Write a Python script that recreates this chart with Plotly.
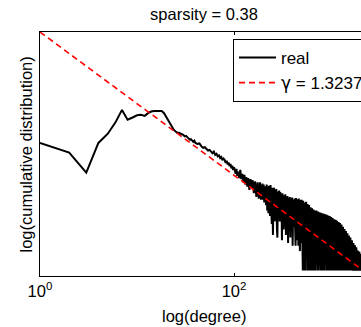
import plotly.graph_objects as go

# ---------------- data ----------------
title_text = "sparsity = 0.38"
x_label = "log(degree)"
y_label = "log(cumulative distribution)"
series_names = ["real", "<span style='font-family:DejaVu Sans'>γ</span> = 1.3237"]
gamma = 1.3237

x_tick_vals = [1, 100]
x_tick_text = ["10<sup>0</sup>", "10<sup>2</sup>"]

# head of the curve (one point per degree)
degree_head = [1, 2, 3, 4, 5, 6, 7, 8, 9, 10, 11, 12, 13, 14, 15, 16, 17, 18,
               19, 20, 21, 22, 23, 24, 25, 26, 27, 28, 29, 30, 31, 32, 33, 34,
               35, 36, 37, 38, 39, 40]
log_cdf_head = [-2.05, -2.23, -2.60, -2.05, -1.88, -1.67, -1.44, -1.62, -1.58,
                -1.54, -1.53, -1.55, -1.50, -1.47, -1.46, -1.46, -1.46, -1.46,
                -1.50, -1.57, -1.64, -1.69, -1.75, -1.81, -1.84, -1.86, -1.86,
                -1.88, -1.89, -1.90, -1.93, -1.92, -1.95, -1.97, -1.99, -1.98,
                -2.02, -2.03, -2.01, -2.05]

# middle part
degree_mid = [42, 44, 46, 48, 50, 52, 54, 56, 58, 60,
              62, 64, 66, 68, 70, 72, 74, 76, 78, 80,
              82, 84, 86, 88, 90, 92, 94, 96, 98, 100,
              102, 104, 106, 108, 110, 113, 116, 119, 122, 125,
              128, 131, 134, 137, 140, 144, 148, 152, 156, 160,
              165, 170, 175, 180, 185, 190]
log_cdf_mid = [-2.07, -2.06, -2.11, -2.14, -2.13, -2.17, -2.19, -2.18, -2.22, -2.24,
               -2.21, -2.27, -2.25, -2.30, -2.28, -2.33, -2.31, -2.37, -2.34, -2.36,
               -2.42, -2.38, -2.45, -2.41, -2.48, -2.44, -2.52, -2.47, -2.55, -2.50,
               -2.56, -2.62, -2.53, -2.66, -2.58, -2.70, -2.55, -2.72, -2.62, -2.78,
               -2.64, -2.82, -2.68, -2.86, -2.70, -2.92, -2.72, -2.88, -2.74, -2.98,
               -2.76, -3.05, -2.78, -3.08, -2.78, -3.10]

# noisy part
degree_noisy = [196, 199, 202, 205, 208, 211, 214, 217, 220, 223,
                226, 229, 232, 235, 238, 242, 245, 248, 252, 256,
                259, 263, 266, 270, 273, 277, 280, 284, 288, 292,
                296, 300, 304, 308, 312, 316, 320, 325, 329, 334,
                338, 343, 347, 352, 356, 361, 366, 371, 376, 381,
                386, 392, 397, 402, 408, 414]
log_cdf_noisy = [-2.80, -3.10, -2.82, -3.15, -2.85, -3.05, -3.20, -2.82, -3.30, -2.86,
                 -3.35, -2.84, -3.10, -3.40, -2.83, -3.25, -3.55, -2.88, -3.75, -2.90,
                 -2.88, -3.50, -2.92, -3.35, -2.90, -3.65, -3.80, -2.95, -3.45, -2.93,
                 -3.50, -2.96, -3.40, -3.00, -3.85, -2.98, -3.55, -3.65, -3.02, -3.60,
                 -3.00, -3.75, -3.05, -3.55, -3.03, -3.90, -3.07, -3.60, -3.05, -3.80,
                 -3.08, -3.65, -3.06, -3.95, -3.10, -3.60]

# very noisy tail
degree_tail = [420, 424, 427, 431, 435, 438, 442, 446, 450, 453,
               457, 461, 465, 469, 473, 478, 482, 486, 490, 494,
               499, 503, 508, 512, 516, 521, 526, 530, 535, 539,
               544, 549, 554, 558, 563, 568, 573, 578, 583, 588,
               594, 599, 604, 609, 615, 620, 626, 631, 637, 642,
               648, 654, 659, 665, 671, 677, 683, 689, 695, 701,
               707, 713, 720, 726, 732, 739, 745, 752, 758, 765,
               772, 778, 785, 792, 799, 806, 813, 820, 828, 835,
               842, 850, 857, 865, 872, 880, 888, 895, 903, 911,
               919, 927, 935, 944, 952, 960, 969, 977, 986, 995,
               1003, 1012, 1021, 1030, 1039, 1048, 1057, 1067, 1076, 1086,
               1095, 1105, 1115, 1124, 1134, 1144, 1154, 1165, 1175, 1185,
               1196, 1206, 1217, 1227, 1238, 1249, 1260, 1271, 1282, 1294,
               1305, 1317, 1328, 1340, 1352, 1364, 1376, 1388, 1400, 1413,
               1425, 1438, 1450, 1463, 1476, 1489, 1502, 1515, 1529, 1542,
               1556, 1570, 1583, 1597, 1612, 1626, 1640, 1655, 1669, 1684,
               1699, 1714, 1729, 1744, 1760, 1775, 1791, 1807, 1823, 1839,
               1855, 1871, 1888, 1905, 1921, 1938, 1955, 1973, 1990, 2008,
               2025, 2043, 2061, 2080, 2098]
log_cdf_tail = [-3.08, -3.70, -3.15, -3.95, -3.07, -3.60, -3.20, -3.85, -3.09, -3.75,
                -3.18, -3.95, -3.08, -3.55, -3.25, -4.05, -3.10, -3.80, -3.22, -3.90,
                -3.10, -3.65, -3.20, -4.41, -3.12, -3.85, -3.30, -4.41, -3.15, -3.70,
                -3.25, -4.41, -3.14, -3.90, -3.35, -4.20, -3.18, -4.41, -3.28, -3.80,
                -3.20, -4.41, -3.38, -3.95, -3.24, -4.41, -3.35, -4.00, -3.26, -4.41,
                -3.40, -4.30, -3.28, -4.41, -3.45, -3.95, -3.30, -4.41, -3.38, -4.41,
                -3.30, -4.10, -3.45, -4.41, -3.32, -4.41, -3.50, -4.20, -3.33, -4.41,
                -3.42, -4.41, -3.34, -4.05, -3.50, -4.41, -3.35, -4.41, -3.55, -4.30,
                -3.36, -4.41, -3.48, -4.41, -3.37, -4.15, -3.58, -4.41, -3.38, -4.41,
                -3.50, -4.41, -3.39, -4.30, -3.60, -4.41, -3.40, -4.41, -3.55, -4.41,
                -3.42, -4.25, -3.62, -4.41, -3.44, -4.41, -3.58, -4.41, -3.46, -4.35,
                -3.65, -4.41, -3.47, -4.41, -3.70, -4.41, -3.49, -4.30, -3.62, -4.41,
                -3.51, -4.41, -3.75, -4.41, -3.53, -4.41, -3.70, -4.35, -3.56, -4.41,
                -3.78, -4.41, -3.60, -4.41, -3.85, -4.41, -3.64, -4.41, -3.82, -4.41,
                -3.68, -4.41, -3.90, -4.41, -3.72, -4.41, -3.88, -4.41, -3.76, -4.41,
                -4.00, -4.41, -3.80, -4.41, -3.95, -4.41, -3.85, -4.41, -4.05, -4.41,
                -3.90, -4.41, -4.05, -4.41, -3.94, -4.41, -4.15, -4.41, -3.98, -4.41,
                -4.08, -4.41, -4.04, -4.41, -4.22, -4.41, -4.06, -4.41, -4.15, -4.41,
                -4.10, -4.41, -4.20, -4.41, -4.14]

# power-law fit end points
fit_degree = [1, 2500]

assert len(degree_head) == len(log_cdf_head)
assert len(degree_mid) == len(log_cdf_mid)
assert len(degree_noisy) == len(log_cdf_noisy)
assert len(degree_tail) == len(log_cdf_tail)

# ---------------- build figure ----------------
degree = degree_head + degree_mid + degree_noisy + degree_tail
cdf = [10 ** v for v in (log_cdf_head + log_cdf_mid + log_cdf_noisy + log_cdf_tail)]
fit_cdf = [d ** (-gamma) for d in fit_degree]

FONT = "Liberation Sans, Arial, Helvetica, sans-serif"
FS = 16.5

fig = go.Figure()
fig.add_trace(go.Scatter(x=degree, y=cdf, mode="lines", name=series_names[0],
                         line=dict(color="black", width=2)))
fig.add_trace(go.Scatter(x=fit_degree, y=fit_cdf, mode="lines", name=series_names[1],
                         line=dict(color="#ff0000", width=1.6, dash="6px,4px")))

W, H = 361, 327
ml, mt, mb = 40, 32, 51
plot_w = W - ml
plot_h = H - mt - mb

fig.update_layout(
    width=W, height=H,
    margin=dict(l=ml, r=0, t=mt, b=mb, pad=0, autoexpand=False),
    paper_bgcolor="white", plot_bgcolor="white",
    font=dict(family=FONT, size=FS, color="black"),
    title=dict(text=title_text, x=204 / W, xref="container", xanchor="center",
               y=1 - 14 / H, yref="container", yanchor="middle",
               font=dict(family=FONT, size=FS, color="black")),
    showlegend=True,
    legend=dict(x=(233 - ml) / plot_w, y=(H - mb - 39) / plot_h,
                xanchor="left", yanchor="top",
                bordercolor="black", borderwidth=1, bgcolor="white",
                font=dict(family=FONT, size=17, color="black"),
                itemwidth=37, tracegroupgap=0),
    xaxis=dict(type="log", range=[0, 3.309], showgrid=False, zeroline=False,
               showline=True, linecolor="black", linewidth=1, mirror="ticks",
               ticks="inside", ticklen=3, tickcolor="black",
               tickvals=x_tick_vals, ticktext=x_tick_text,
               tickfont=dict(family=FONT, size=FS, color="black")),
    yaxis=dict(type="log", range=[-4.51, 0], showgrid=False, zeroline=False,
               showline=True, linecolor="black", linewidth=1, mirror=False,
               ticks="", showticklabels=False),
    annotations=[
        dict(text=x_label, xref="paper", yref="paper",
             x=(204 - ml) / plot_w, y=(H - mb - 316) / plot_h,
             xanchor="center", yanchor="middle", showarrow=False,
             font=dict(family=FONT, size=FS, color="black")),
        dict(text=y_label, xref="paper", yref="paper",
             x=(25.5 - ml) / plot_w, y=(H - mb - 155) / plot_h,
             xanchor="center", yanchor="middle", showarrow=False, textangle=-90,
             font=dict(family=FONT, size=FS, color="black")),
    ],
)

fig.write_html("out.html")
